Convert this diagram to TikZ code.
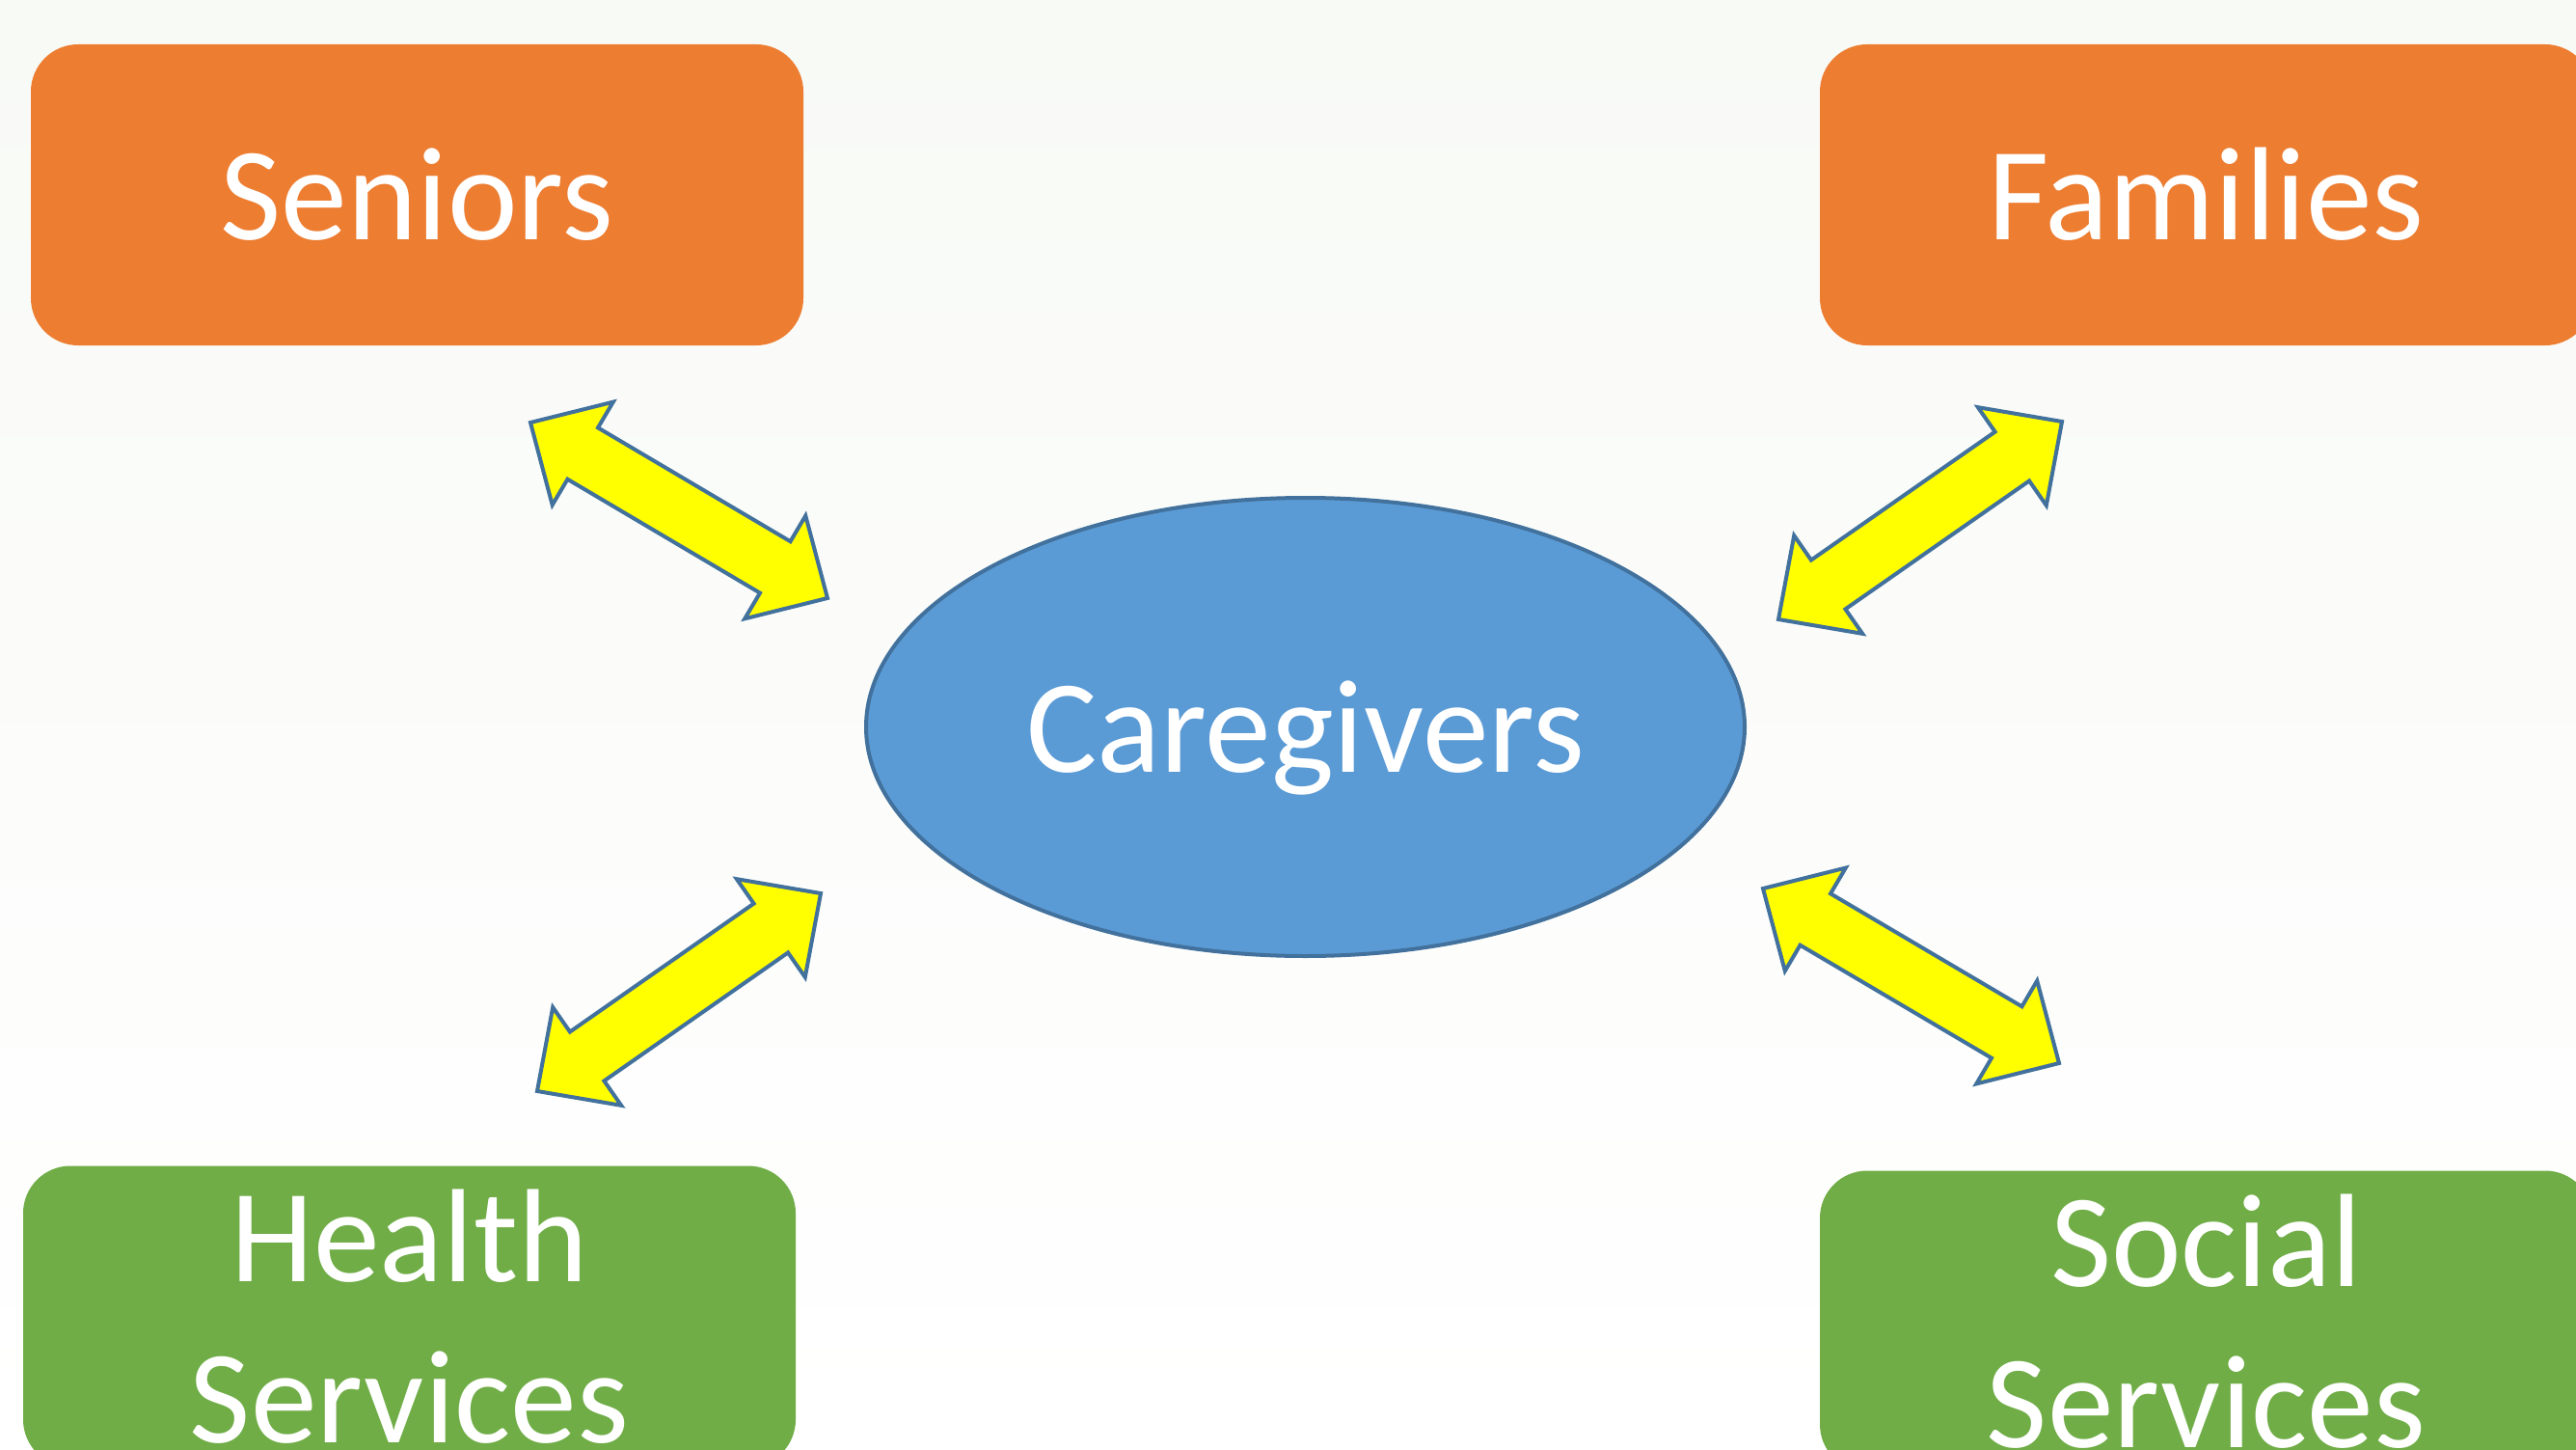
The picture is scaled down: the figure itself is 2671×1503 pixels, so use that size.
\documentclass[tikz,border=0pt]{standalone}
\usepackage{fontspec}
\setmainfont{Carlito}
\usetikzlibrary{calc,shapes.geometric}
\definecolor{bgtop}{RGB}{248,250,246}
\definecolor{orangebox}{RGB}{237,125,49}
\definecolor{greenbox}{RGB}{112,173,71}
\definecolor{bluefill}{RGB}{91,155,213}
\definecolor{blueline}{RGB}{65,113,156}
\definecolor{arrowfill}{RGB}{255,255,0}
\newcommand\blockarrow[2]{%
  \draw[yarrow] let \p1=($(#2)-(#1)$), \n1={atan2(\y1,\x1)}, \n2={veclen(\x1,\y1)} in
    ([shift={(#1)},rotate=\n1]0pt,0pt)
    -- ([shift={(#1)},rotate=\n1]31.5pt,31pt)
    -- ([shift={(#1)},rotate=\n1]31.5pt,15.5pt)
    -- ([shift={(#1)},rotate=\n1]\n2*1pt-31.5pt,15.5pt)
    -- ([shift={(#1)},rotate=\n1]\n2*1pt-31.5pt,31pt)
    -- ([shift={(#1)},rotate=\n1]\n2*1pt,0pt)
    -- ([shift={(#1)},rotate=\n1]\n2*1pt-31.5pt,-31pt)
    -- ([shift={(#1)},rotate=\n1]\n2*1pt-31.5pt,-15.5pt)
    -- ([shift={(#1)},rotate=\n1]31.5pt,-15.5pt)
    -- ([shift={(#1)},rotate=\n1]31.5pt,-31pt)
    -- cycle;}
\begin{document}
\begin{tikzpicture}[x=0.5pt,y=-0.5pt,
  txt/.style={text=white,font=\fontsize{68.8pt}{83.5pt}\selectfont,align=center},
  oneline/.style={text height=46.5pt,text depth=0pt},
  box/.style={txt,draw=none,rounded corners=24.5pt,minimum width=400.5pt,minimum height=156pt,inner sep=0pt},
  orangebx/.style={box,oneline,fill=orangebox},
  greenbx/.style={box,fill=greenbox},
  hub/.style={txt,oneline,ellipse,fill=bluefill,draw=blueline,line width=2pt,minimum width=455.5pt,minimum height=237.5pt,inner sep=0pt},
  yarrow/.style={fill=arrowfill,draw=blueline,line width=2pt,line join=miter}]
\useasboundingbox (0,0) rectangle (2671,1503);
\clip (0,0) rectangle (2671,1503);
\shade[top color=bgtop,bottom color=white] (0,0) rectangle (2671,1503);
\node[orangebx] (seniors) at (432.5,202) {Seniors};
\node[orangebx] (families) at (2287.5,202) {Families};
\node[greenbx] (health) at (424.5,1364.5) {Health\\Services};
\node[greenbx] (social) at (2287.5,1369.5) {Social\\Services};
\node[hub] (care) at (1353.5,753.5) {Caregivers};
\coordinate (a1s) at (550,438);
\coordinate (a1e) at (858,620);
\coordinate (a2s) at (2138,437);
\coordinate (a2e) at (1844,642);
\coordinate (a3s) at (851,926);
\coordinate (a3e) at (557,1131);
\coordinate (a4s) at (1828,921);
\coordinate (a4e) at (2135,1102);
\blockarrow{a1s}{a1e}
\blockarrow{a2s}{a2e}
\blockarrow{a3s}{a3e}
\blockarrow{a4s}{a4e}
\end{tikzpicture}
\end{document}
